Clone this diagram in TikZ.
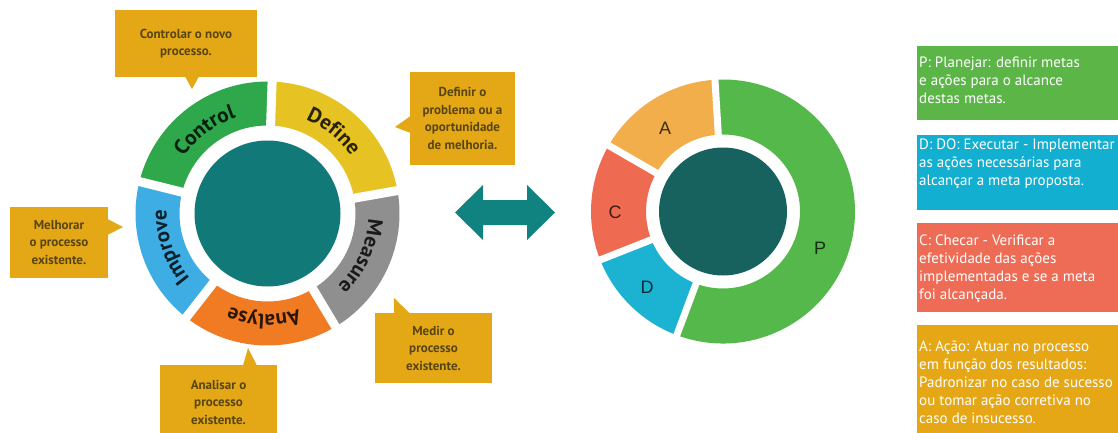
\documentclass[tikz,border=0pt]{standalone}
\usepackage{fontspec}
\setmainfont{PT Sans}
\newfontfamily\pieFont{Liberation Sans}
\usetikzlibrary{decorations.text}

\definecolor{calloutBg}{HTML}{E4A816}
\definecolor{calloutTxt}{HTML}{584512}
\definecolor{hubTeal}{HTML}{117A79}
\definecolor{hubDark}{HTML}{17625F}
\definecolor{arrowTeal}{HTML}{10827F}
\definecolor{segControl}{HTML}{2EA84B}
\definecolor{segDefine}{HTML}{E6C322}
\definecolor{segMeasure}{HTML}{8F8F8F}
\definecolor{segAnalyse}{HTML}{F07B23}
\definecolor{segImprove}{HTML}{3DADE4}
\definecolor{pieP}{HTML}{55B84A}
\definecolor{pieA}{HTML}{F2AE4A}
\definecolor{pieC}{HTML}{EE6A50}
\definecolor{pieD}{HTML}{1CB3D3}
\definecolor{boxP}{HTML}{5CB547}
\definecolor{boxD}{HTML}{13AFD0}
\definecolor{boxC}{HTML}{EE6C55}
\definecolor{boxA}{HTML}{E5A715}

% annular sector: colour, centre, start angle, end angle, inner radius, outer radius
\newcommand\annsector[6]{%
  \fill[#1] ([shift={(#3:#6)}]#2) arc[start angle=#3, end angle=#4, radius=#6]
    -- ([shift={(#4:#5)}]#2) arc[start angle=#4, end angle=#3, radius=#5] -- cycle;}
\newcommand\ringfont{\bfseries\fontsize{21}{21}\selectfont}
% curved ring label: centre, start angle, end angle, text, colour (clockwise arc)
\newcommand\ringlabel[5]{%
  \path[decorate, decoration={text along path, text align=center, text color=#5,
      text={|\ringfont|#4}}]
    ([shift={(#2:101)}]#1) arc[start angle=#2, end angle=#3, radius=101];}

\begin{document}
\begin{tikzpicture}[x=1pt, y=1pt,
  callout/.style={fill=calloutBg, text=calloutTxt, align=center, inner sep=0pt,
    font=\bfseries\fontsize{13}{17.5}\selectfont},
  tipfill/.style={fill=calloutBg},
  infobox/.style={inner sep=0pt, anchor=north west, minimum width=201pt},
  infotext/.style={text=white, align=left, anchor=west, inner sep=0pt,
    font=\fontsize{15}{18}\selectfont},
  gapline/.style={white, line width=#1},
  hub/.style={circle, inner sep=0pt},
  pielabel/.style={font=\pieFont\fontsize{18}{18}\selectfont, inner sep=0pt}
]
\useasboundingbox (0,0) rectangle (1118,432);

\coordinate (L) at (267.5,218.5);
\coordinate (R) at (723,220.5);

% ---- DMAIC ring ----
\annsector{segDefine}{L}{10}{88}{88}{132}
\annsector{segControl}{L}{88}{166}{88}{132}
\annsector{segImprove}{L}{166}{232}{88}{132}
\annsector{segAnalyse}{L}{232}{301}{88}{132}
\annsector{segMeasure}{L}{-59}{10}{88}{132}
\foreach \a in {88,10,-59,232,166}
  \draw[gapline=9pt] (L) -- ([shift={(\a:140)}]L);
\node[hub, fill=hubTeal, minimum size=146pt] (hubL) at (L) {};

\ringlabel{L}{187}{67}{Control}{black!82!segControl}
\ringlabel{L}{111}{-9}{Define}{black!82!segDefine}
\ringlabel{L}{35.5}{-84.5}{Measure}{black!82!segMeasure}
\ringlabel{L}{-32}{-152}{Analyse}{black!82!segAnalyse}
\ringlabel{L}{259}{139}{Improve}{black!82!segImprove}

% ---- callouts ----
\node[callout, minimum width=142pt, minimum height=67pt] (cbCtrl) at (186,388.5)
  {Controlar o novo\\processo.};
\fill[tipfill] (185,355.5) -- (192,343) -- (199,355.5) -- cycle;

\node[callout, minimum width=105pt, minimum height=93pt] (cbDef) at (462.5,313.5)
  {Definir o\\problema ou a\\oportunidade\\de melhoria.};
\fill[tipfill] (410.5,316) -- (395,305) -- (410.5,299) -- cycle;

\node[callout, minimum width=98pt, minimum height=71pt] (cbImp) at (59,189.5)
  {Melhorar\\o processo\\existente.};
\fill[tipfill] (107.5,213) -- (123,205) -- (107.5,197) -- cycle;

\node[callout, minimum width=117pt, minimum height=74pt] (cbAna) at (218.5,30)
  {Analisar o\\processo\\existente.};
\fill[tipfill] (243,66.5) -- (248,84) -- (257,66.5) -- cycle;

\node[callout, minimum width=117pt, minimum height=70pt] (cbMea) at (433.5,84)
  {Medir o\\processo\\existente.};
\fill[tipfill] (394,118.5) -- (394,134) -- (410,118.5) -- cycle;

% ---- double arrow ----
\fill[arrowTeal] (455,219.5) -- (483,247) -- (483,232) -- (527,232) -- (527,247)
  -- (555,219.5) -- (527,192) -- (527,207) -- (483,207) -- (483,192) -- cycle;

% ---- PDCA donut ----
\annsector{pieP}{R}{-110.5}{93.5}{77}{132}
\annsector{pieA}{R}{93.5}{150}{77}{132}
\annsector{pieC}{R}{150}{201.5}{77}{132}
\annsector{pieD}{R}{201.5}{249.5}{77}{132}
\foreach \a in {93.5,150,201.5,249.5}
  \draw[gapline=7pt] (R) -- ([shift={(\a:140)}]R);
\node[hub, fill=hubDark, minimum size=128pt] (hubR) at (R) {};

\node[pielabel, text=black!75!pieA] (labA) at (665,304) {A};
\node[pielabel, text=black!75!pieC] (labC) at (615,220) {C};
\node[pielabel, text=black!75!pieD] (labD) at (647,145) {D};
\node[pielabel, text=black!75!pieP] (labP) at (820,184) {P};

% ---- legend boxes ----
\node[infobox, fill=boxP, minimum height=74pt] (boxP) at (917,386) {};
\node[infotext] (txtP) at (919,351.5)
  {P: Planejar: definir metas\\e ações para o alcance\\destas metas.};

\node[infobox, fill=boxD, minimum height=75pt] (boxD) at (917,297) {};
\node[infotext] (txtD) at (919,268)
  {D: DO: Executar - Implementar\\as ações necessárias para\\alcançar a meta proposta.};

\node[infobox, fill=boxC, minimum height=89pt] (boxC) at (917,209) {};
\node[infotext] (txtC) at (919,163.5)
  {C: Checar - Verificar a\\efetividade das ações\\implementadas e se a meta\\foi alcançada.};

\node[infobox, fill=boxA, minimum height=112pt] (boxA) at (917,107) {};
\node[infotext] (txtA) at (919,50)
  {A: Ação: Atuar no processo\\em função dos resultados:\\Padronizar no caso de sucesso\\ou tomar ação corretiva no\\caso de insucesso.};
\end{tikzpicture}
\end{document}
